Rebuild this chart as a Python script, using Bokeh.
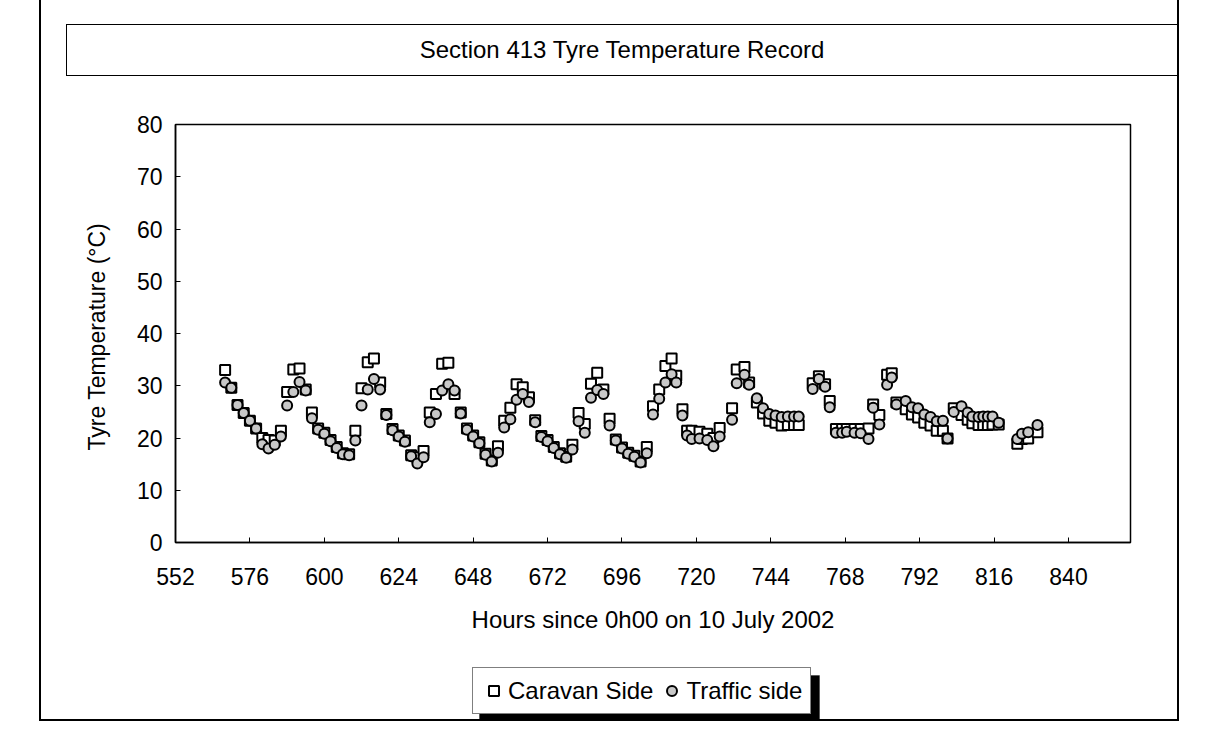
from bokeh.plotting import figure
from bokeh.layouts import column
from bokeh.models import (FixedTicker, Legend, LegendItem, Div, BoxAnnotation,
                          Range1d, ColumnDataSource)
from bokeh.embed import file_html
from bokeh.resources import INLINE

# ---------------- data ----------------
hours = [568, 570, 572, 574, 576, 578, 580, 582, 584, 586,
         588, 590, 592, 594, 596, 598, 600, 602, 604, 606, 608, 610,
         612, 614, 616, 618, 620, 622, 624, 626, 628, 630, 632,
         634, 636, 638, 640, 642, 644, 646, 648, 650, 652, 654, 656,
         658, 660, 662, 664, 666, 668, 670, 672, 674, 676, 678, 680,
         682, 684, 686, 688, 690, 692, 694, 696, 698, 700, 702, 704,
         706, 708, 710, 712, 713.5, 715.5, 717, 718.5, 721, 723.5, 725.5, 727.5, 731.5,
         733, 735.5, 737, 739.5, 741.5, 743.5, 745.5, 747.5, 749.5, 751.5, 753,
         757.5, 759.5, 761.5, 763, 765, 767, 768.5, 771, 773, 775.5, 777, 779,
         781.5, 783, 784.5, 787.5, 789.5, 791.5, 793.5, 795.5, 797.5, 799.5,
         801, 803, 805.5, 807.5, 809, 811, 812.5, 814, 815.5, 817.5,
         823.5, 825, 827, 830]

caravan_side = [33.0, 29.6, 26.3, 24.8, 23.3, 21.8, 20.0, 19.6, 19.5, 21.4,
                28.8, 33.1, 33.3, 29.3, 24.9, 21.8, 21.0, 19.6, 18.3, 17.1, 16.9, 21.4,
                29.5, 34.5, 35.2, 30.6, 24.6, 21.7, 20.5, 19.5, 16.7, 16.3, 17.5,
                24.9, 28.4, 34.2, 34.4, 28.4, 24.9, 21.8, 20.5, 19.2, 17.0, 15.7, 18.4,
                23.3, 25.8, 30.3, 29.7, 27.8, 23.4, 20.4, 19.6, 18.3, 17.1, 16.4, 18.7,
                24.8, 22.7, 30.4, 32.5, 29.3, 23.7, 19.7, 18.2, 17.2, 16.6, 15.5, 18.3,
                26.1, 29.3, 33.8, 35.2, 31.9, 25.5, 21.4, 21.4, 21.2, 20.8, 20.0, 21.9, 25.7,
                33.1, 33.6, 30.6, 26.8, 24.7, 23.3, 22.9, 22.4, 22.5, 22.5, 22.5,
                30.5, 31.8, 30.3, 27.1, 21.7, 21.7, 21.7, 21.7, 21.7, 21.8, 26.4, 24.4,
                32.1, 32.4, 26.8, 25.5, 24.5, 23.9, 22.9, 22.4, 21.4, 21.4,
                19.9, 25.7, 24.4, 23.5, 22.8, 22.5, 22.5, 22.5, 22.6, 22.6,
                18.9, 19.8, 19.9, 21.1]

traffic_side = [30.6, 29.6, 26.3, 24.8, 23.3, 21.8, 18.8, 18.0, 18.7, 20.3,
                26.2, 28.8, 30.7, 29.1, 23.8, 21.6, 20.8, 19.4, 18.1, 16.9, 16.7, 19.5,
                26.2, 29.3, 31.3, 29.3, 24.4, 21.5, 20.3, 19.3, 16.5, 15.1, 16.3,
                23.0, 24.6, 29.1, 30.3, 29.1, 24.7, 21.6, 20.3, 19.0, 16.8, 15.5, 17.2,
                22.0, 23.6, 27.3, 28.4, 26.9, 23.0, 20.2, 19.4, 18.1, 16.9, 16.2, 17.8,
                23.2, 21.0, 27.7, 29.2, 28.4, 22.4, 19.5, 18.0, 17.0, 16.4, 15.3, 17.1,
                24.5, 27.5, 30.6, 32.2, 30.6, 24.3, 20.5, 19.8, 19.9, 19.6, 18.4, 20.3, 23.5,
                30.5, 32.1, 30.2, 27.6, 25.7, 24.6, 24.3, 24.0, 24.1, 24.1, 24.1,
                29.4, 31.3, 29.8, 25.9, 21.0, 21.0, 21.2, 21.0, 20.9, 19.8, 25.8, 22.6,
                30.2, 31.6, 26.4, 27.1, 25.9, 25.7, 24.5, 24.0, 23.2, 23.3,
                19.9, 25.0, 26.1, 24.9, 24.1, 24.0, 24.1, 24.1, 24.1, 22.9,
                19.8, 20.8, 21.1, 22.5]

x_ticks = [552, 576, 600, 624, 648, 672, 696, 720, 744, 768, 792, 816, 840]
y_ticks = [0, 10, 20, 30, 40, 50, 60, 70, 80]

title_text = "Section 413 Tyre Temperature Record"
x_title = "Hours since 0h00 on 10 July 2002"
y_title = "Tyre Temperature  (\u00b0C)"
series_names = ["Caravan Side", "Traffic side"]

FONT = "Liberation Sans"
FS_TICK = "23px"
FS_BIG = "24px"
SIDE = {"border-left": "2px solid black",
        "border-right": "2px solid black"}

# ---------------- boxed title strip ----------------
title_div = Div(
    text=('<div style="box-sizing:border-box; margin:24px 0 0 25px; width:1112px; '
          'height:52px; border:1.5px solid black; display:flex; align-items:center; '
          'justify-content:center; font-family:\'Liberation Sans\', Arial, sans-serif; '
          'font-size:24px; color:black; background:white;">' + title_text + '</div>'),
    width=1140, height=100, margin=(0, 0, 0, 39), styles=dict(SIDE))

# ---------------- main chart ----------------
p = figure(width=1140, height=542, output_backend="svg", toolbar_location=None,
           x_range=Range1d(552, 860), y_range=Range1d(0, 80),
           min_border_left=134, min_border_right=51,
           min_border_top=24, min_border_bottom=100)
p.margin = (0, 0, 0, 39)
p.styles = dict(SIDE)
p.xgrid.visible = False
p.ygrid.visible = False
p.outline_line_color = "black"
p.outline_line_width = 1.5
p.background_fill_color = "white"
p.border_fill_color = "white"

for ax in (p.xaxis[0], p.yaxis[0]):
    ax.axis_line_color = "black"
    ax.axis_line_width = 1.5
    ax.major_tick_in = 5
    ax.major_tick_out = 0
    ax.major_tick_line_color = "black"
    ax.minor_tick_line_color = None
    ax.major_label_text_font = FONT
    ax.major_label_text_font_size = FS_TICK
    ax.major_label_text_color = "black"
    ax.axis_label_text_font = FONT
    ax.axis_label_text_font_style = "normal"
    ax.axis_label_text_color = "black"

p.xaxis[0].axis_label_text_font_size = FS_BIG
p.yaxis[0].axis_label_text_font_size = FS_TICK
p.xaxis[0].ticker = FixedTicker(ticks=x_ticks)
p.yaxis[0].ticker = FixedTicker(ticks=y_ticks)
p.xaxis[0].major_label_standoff = 25
p.yaxis[0].major_label_standoff = 13
p.xaxis[0].axis_label = x_title
p.yaxis[0].axis_label = y_title
p.xaxis[0].axis_label_standoff = 18
p.yaxis[0].axis_label_standoff = 24

src = ColumnDataSource(dict(h=hours, c=caravan_side, t=traffic_side))
MK1 = dict(marker="square", size=10, fill_color="white", line_color="black", line_width=2)
MK2 = dict(marker="circle", size=10, fill_color="#c8c8c8", line_color="black", line_width=2)
r1 = p.scatter("h", "c", source=src, **MK1)
r2 = p.scatter("h", "t", source=src, **MK2)

# ---------------- legend strip ----------------
lf = figure(width=1140, height=79, output_backend="svg", toolbar_location=None,
            x_range=Range1d(0, 1), y_range=Range1d(0, 1),
            x_axis_location=None, y_axis_location=None,
            min_border_left=134, min_border_right=51,
            min_border_top=0, min_border_bottom=0)
lf.margin = (0, 0, 0, 39)
lf.styles = dict(SIDE, **{"border-bottom": "2px solid black"})
lf.xgrid.visible = False
lf.ygrid.visible = False
lf.outline_line_color = None
lf.border_fill_color = "white"
lf.background_fill_color = "white"
# legend-only renderers (no visible points: NaN coordinates)
key_src = ColumnDataSource(dict(x=[float("nan")], y=[float("nan")]))
l1 = lf.scatter("x", "y", source=key_src, **MK1)
l2 = lf.scatter("x", "y", source=key_src, **MK2)

shadow = BoxAnnotation(left=304, right=644, bottom=1, top=46,
                       left_units="screen", right_units="screen",
                       bottom_units="screen", top_units="screen",
                       fill_color="black", fill_alpha=1.0, line_color="black",
                       level="underlay")
lf.add_layout(shadow)

legend = Legend(items=[LegendItem(label=series_names[0], renderers=[l1]),
                       LegendItem(label=series_names[1], renderers=[l2])],
                orientation="horizontal", location=(297, 7),
                border_line_color="black", border_line_width=1.5,
                background_fill_color="white", background_fill_alpha=1.0,
                label_text_font=FONT, label_text_font_size=FS_BIG,
                label_text_color="black",
                glyph_width=25, glyph_height=29, label_standoff=2,
                spacing=6, padding=8, margin=0)
lf.add_layout(legend, "center")

layout = column(title_div, p, lf, spacing=0)
open("out.html", "w").write(file_html(layout, INLINE))
